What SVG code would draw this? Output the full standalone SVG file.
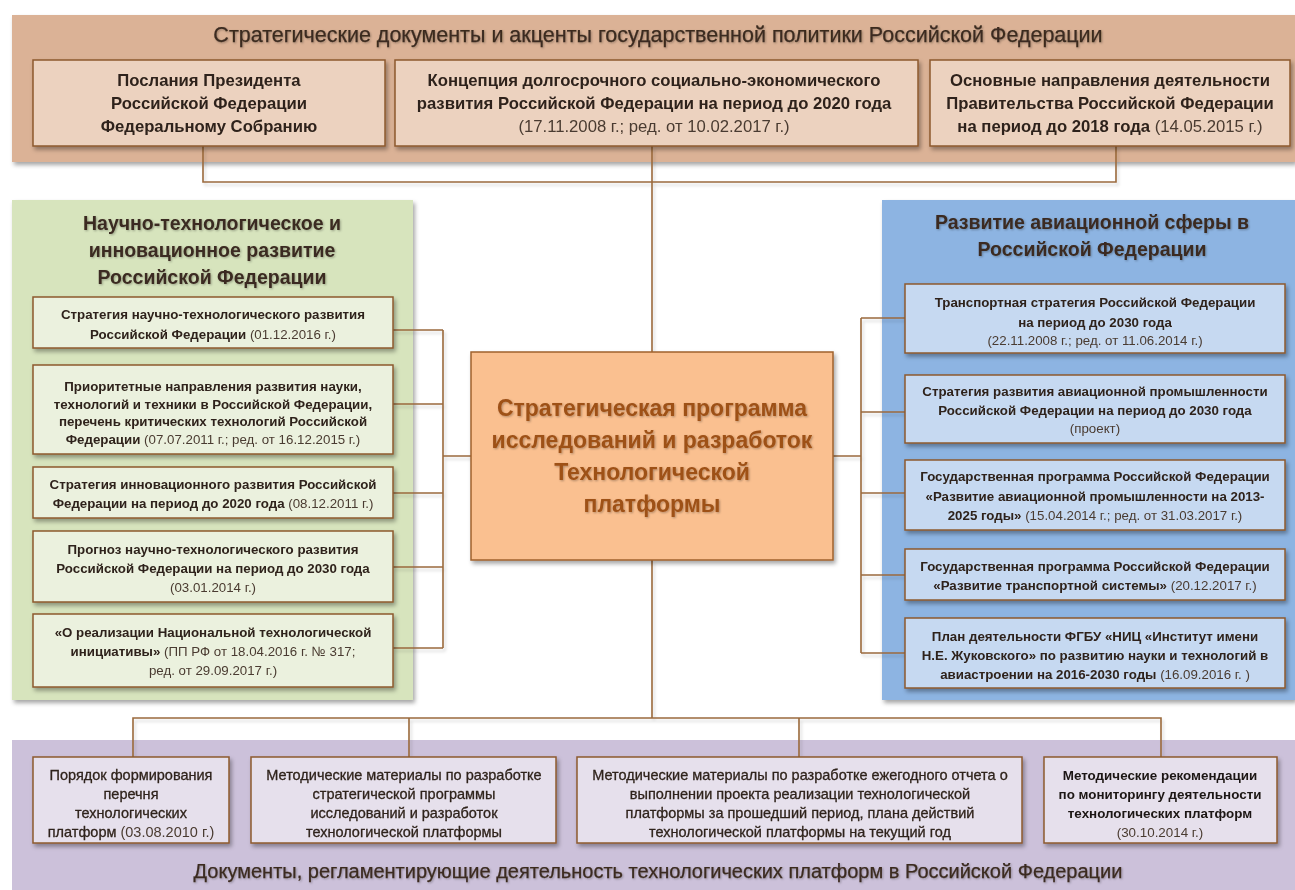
<svg xmlns="http://www.w3.org/2000/svg" width="1295" height="890" viewBox="0 0 1295 890">
<defs>
<filter id="sh" x="-5%" y="-5%" width="112%" height="130%"><feDropShadow dx="2" dy="3" stdDeviation="2" flood-color="#000" flood-opacity="0.35"/></filter>
<filter id="tsh" x="-5%" y="-20%" width="110%" height="150%"><feDropShadow dx="1" dy="1" stdDeviation="0.8" flood-color="#000" flood-opacity="0.3"/></filter>
<filter id="lsh" x="-5%" y="-5%" width="110%" height="110%"><feDropShadow dx="2" dy="3" stdDeviation="1.5" flood-color="#000" flood-opacity="0.15"/></filter>
</defs>
<style>
text{font-family:"Liberation Sans",Arial,sans-serif;text-anchor:middle}
.ttl{font-size:21.5px;fill:#3b2b20;stroke:#3b2b20;stroke-width:0.25}
.ftl{font-size:20px;fill:#3b2b20;stroke:#3b2b20;stroke-width:0.25}
.side{font-size:19.5px;font-weight:bold;fill:#3b2b20}
.tb{font-size:16.7px;font-weight:bold;fill:#2f231b}
.sb{font-size:13.3px;font-weight:bold;fill:#2f231b}
.bt{font-size:14.5px;fill:#2f231b;stroke:#2f231b;stroke-width:0.3}
.b4{font-size:13.4px;font-weight:bold;fill:#1c1612}
.d{font-weight:normal;fill:#4a3b30;stroke:none}
.ctr{font-size:23px;font-weight:bold;fill:#9e5119}
.box{stroke:#8d5a2e;stroke-width:1.5}
.con{fill:none;stroke:#9b6a3c;stroke-width:1.6}
</style>

<!-- panels -->
<g id="panel-top" filter="url(#sh)"><rect x="12" y="15" width="1283" height="147" fill="#dbb296"/></g>
<g id="panel-left" filter="url(#sh)"><rect x="12" y="200" width="401" height="500" fill="#d7e4bd"/></g>
<g id="panel-right" filter="url(#sh)"><rect x="882" y="200" width="413" height="500" fill="#8db4e2"/></g>
<g id="panel-bottom"><rect x="12" y="740" width="1283" height="150" fill="#ccc1da"/></g>

<g id="titles" filter="url(#tsh)">
<text class="ttl" x="658" y="42">Стратегические документы и акценты государственной политики Российской Федерации</text>
<text class="side" x="212" y="230">Научно-технологическое и</text>
<text class="side" x="212" y="257">инновационное развитие</text>
<text class="side" x="212" y="284">Российской Федерации</text>
<text class="side" x="1092" y="229">Развитие авиационной сферы в</text>
<text class="side" x="1092" y="256">Российской Федерации</text>
<text class="ftl" x="658" y="878">Документы, регламентирующие деятельность технологических платформ в Российской Федерации</text>
</g>

<!-- connectors -->
<g id="connectors" class="con" filter="url(#lsh)">
<path d="M203 146 V182 H1116 V146"/>
<path d="M652 146 V352"/>
<path d="M393 330 H443 M393 404 H443 M393 493 H443 M393 567 H443 M393 648 H443 M443 330 V648 M443 456 H471"/>
<path d="M905 318 H861 M905 412 H861 M905 493 H861 M905 575 H861 M905 653 H861 M861 318 V653 M833 456 H861"/>
<path d="M652 560 V718 M133 757 V718 H1161 V757 M409 718 V757 M799 718 V757"/>
</g>

<!-- top boxes -->
<g id="top-1" filter="url(#sh)"><rect class="box" x="33" y="60" width="352" height="86" fill="#ecd2bf"/>
<text class="tb" x="209" y="86">Послания Президента</text>
<text class="tb" x="209" y="109">Российской Федерации</text>
<text class="tb" x="209" y="132">Федеральному Собранию</text></g>
<g id="top-2" filter="url(#sh)"><rect class="box" x="395" y="60" width="523" height="86" fill="#ecd2bf"/>
<text class="tb" x="654" y="86">Концепция долгосрочного  социально-экономического</text>
<text class="tb" x="654" y="109">развития Российской Федерации на период до 2020 года</text>
<text class="tb" x="654" y="132"><tspan class="d">(17.11.2008 г.; ред. от 10.02.2017 г.)</tspan></text></g>
<g id="top-3" filter="url(#sh)"><rect class="box" x="930" y="60" width="360" height="86" fill="#ecd2bf"/>
<text class="tb" x="1110" y="86">Основные направления деятельности</text>
<text class="tb" x="1110" y="109">Правительства Российской Федерации</text>
<text class="tb" x="1110" y="132">на период до 2018 года <tspan class="d">(14.05.2015 г.)</tspan></text></g>

<!-- left boxes -->
<g id="left-1" filter="url(#sh)"><rect class="box" x="33" y="297" width="360" height="51" fill="#ebf1de"/>
<text class="sb" x="213" y="319">Стратегия научно-технологического развития</text>
<text class="sb" x="213" y="339">Российской  Федерации <tspan class="d">(01.12.2016 г.)</tspan></text></g>
<g id="left-2" filter="url(#sh)"><rect class="box" x="33" y="365" width="360" height="89" fill="#ebf1de"/>
<text class="sb" x="213" y="391">Приоритетные направления развития науки,</text>
<text class="sb" x="213" y="409">технологий и техники в Российской Федерации,</text>
<text class="sb" x="213" y="426">перечень критических технологий Российской</text>
<text class="sb" x="213" y="444">Федерации <tspan class="d">(07.07.2011 г.; ред. от 16.12.2015 г.)</tspan></text></g>
<g id="left-3" filter="url(#sh)"><rect class="box" x="33" y="467" width="360" height="51" fill="#ebf1de"/>
<text class="sb" x="213" y="489">Стратегия инновационного развития  Российской</text>
<text class="sb" x="213" y="508">Федерации на период до 2020 года <tspan class="d">(08.12.2011 г.)</tspan></text></g>
<g id="left-4" filter="url(#sh)"><rect class="box" x="33" y="531" width="360" height="71" fill="#ebf1de"/>
<text class="sb" x="213" y="554">Прогноз научно-технологического развития</text>
<text class="sb" x="213" y="573">Российской  Федерации на период до 2030 года</text>
<text class="sb" x="213" y="592"><tspan class="d">(03.01.2014 г.)</tspan></text></g>
<g id="left-5" filter="url(#sh)"><rect class="box" x="33" y="614" width="360" height="73" fill="#ebf1de"/>
<text class="sb" x="213" y="637">«О реализации Национальной технологической</text>
<text class="sb" x="213" y="656">инициативы»  <tspan class="d">(ПП РФ от 18.04.2016 г. № 317;</tspan></text>
<text class="sb" x="213" y="675"><tspan class="d">ред. от 29.09.2017 г.)</tspan></text></g>

<!-- center -->
<g id="center" filter="url(#sh)"><rect x="471" y="352" width="362" height="208" fill="#fac090" stroke="#a0622d" stroke-width="1.5"/>
<g filter="url(#tsh)">
<text class="ctr" x="652" y="416">Стратегическая  программа</text>
<text class="ctr" x="652" y="448">исследований и разработок</text>
<text class="ctr" x="652" y="480">Технологической</text>
<text class="ctr" x="652" y="512">платформы</text></g></g>

<!-- right boxes -->
<g id="right-1" filter="url(#sh)"><rect class="box" x="905" y="284" width="380" height="69" fill="#c6d9f1"/>
<text class="sb" x="1095" y="307">Транспортная стратегия Российской Федерации</text>
<text class="sb" x="1095" y="327">на период до 2030 года</text>
<text class="sb" x="1095" y="345"><tspan class="d">(22.11.2008 г.; ред. от 11.06.2014 г.)</tspan></text></g>
<g id="right-2" filter="url(#sh)"><rect class="box" x="905" y="375" width="380" height="68" fill="#c6d9f1"/>
<text class="sb" x="1095" y="396">Стратегия развития авиационной промышленности</text>
<text class="sb" x="1095" y="415">Российской  Федерации на период до 2030 года</text>
<text class="sb" x="1095" y="433"><tspan class="d">(проект)</tspan></text></g>
<g id="right-3" filter="url(#sh)"><rect class="box" x="905" y="460" width="380" height="70" fill="#c6d9f1"/>
<text class="sb" x="1095" y="481">Государственная программа Российской  Федерации</text>
<text class="sb" x="1095" y="501">«Развитие авиационной  промышленности на 2013-</text>
<text class="sb" x="1095" y="520">2025 годы» <tspan class="d">(15.04.2014 г.; ред. от 31.03.2017 г.)</tspan></text></g>
<g id="right-4" filter="url(#sh)"><rect class="box" x="905" y="549" width="380" height="51" fill="#c6d9f1"/>
<text class="sb" x="1095" y="571">Государственная программа Российской  Федерации</text>
<text class="sb" x="1095" y="590">«Развитие транспортной системы» <tspan class="d">(20.12.2017 г.)</tspan></text></g>
<g id="right-5" filter="url(#sh)"><rect class="box" x="905" y="618" width="380" height="70" fill="#c6d9f1"/>
<text class="sb" x="1095" y="641">План деятельности ФГБУ «НИЦ «Институт имени</text>
<text class="sb" x="1095" y="660">Н.Е. Жуковского» по развитию науки  и технологий в</text>
<text class="sb" x="1095" y="679">авиастроении на  2016-2030 годы  <tspan class="d">(16.09.2016 г. )</tspan></text></g>

<!-- bottom boxes -->
<g id="bottom-1" filter="url(#sh)"><rect class="box" x="33" y="757" width="196" height="86" fill="#e6e0ec"/>
<text class="bt" x="131" y="780">Порядок формирования</text>
<text class="bt" x="131" y="799">перечня</text>
<text class="bt" x="131" y="818">технологических</text>
<text class="bt" x="131" y="837">платформ <tspan class="d">(03.08.2010 г.)</tspan></text></g>
<g id="bottom-2" filter="url(#sh)"><rect class="box" x="251" y="757" width="305" height="86" fill="#e6e0ec"/>
<text class="bt" x="404" y="780">Методические материалы по разработке</text>
<text class="bt" x="404" y="799">стратегической программы</text>
<text class="bt" x="404" y="818">исследований и разработок</text>
<text class="bt" x="404" y="837">технологической платформы</text></g>
<g id="bottom-3" filter="url(#sh)"><rect class="box" x="577" y="757" width="445" height="86" fill="#e6e0ec"/>
<text class="bt" x="800" y="780">Методические материалы по разработке ежегодного отчета о</text>
<text class="bt" x="800" y="799">выполнении проекта реализации технологической</text>
<text class="bt" x="800" y="818">платформы за прошедший период, плана действий</text>
<text class="bt" x="800" y="837">технологической платформы на текущий год</text></g>
<g id="bottom-4" filter="url(#sh)"><rect class="box" x="1044" y="757" width="233" height="86" fill="#e6e0ec"/>
<text class="b4" x="1160" y="780">Методические рекомендации</text>
<text class="b4" x="1160" y="799">по мониторингу деятельности</text>
<text class="b4" x="1160" y="818">технологических платформ</text>
<text class="b4" x="1160" y="837"><tspan class="d">(30.10.2014 г.)</tspan></text></g>
</svg>
